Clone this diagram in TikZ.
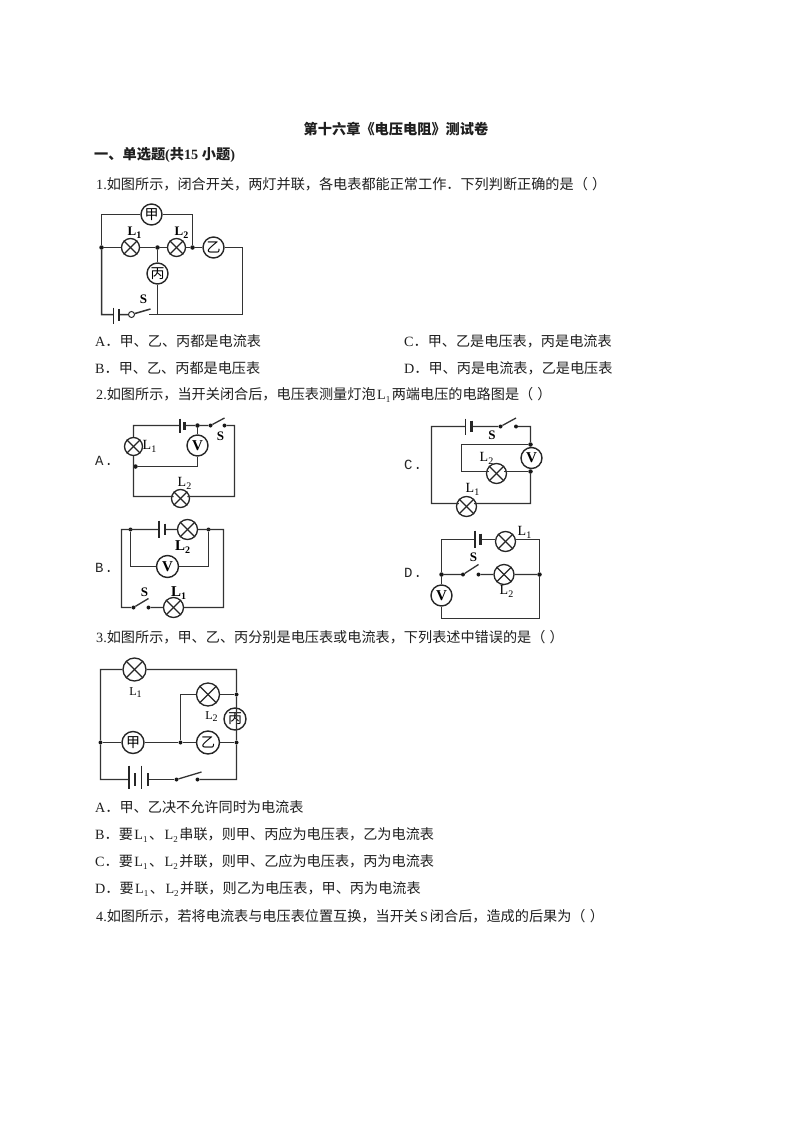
\documentclass[tikz,border=0pt]{standalone}
\usepackage{fontspec}
\setmainfont{Liberation Serif}
\newfontfamily\cjk{Noto Sans CJK SC}
\newfontfamily\latf{Liberation Serif}
\newfontfamily\monof{Liberation Mono}
\newcommand\lat[1]{{\latf #1}}
\newcommand\Lsub[1]{{\latf\hspace{1.5pt}L\raisebox{-0.2em}{\fontsize{9}{9}\selectfont #1}\hspace{1.5pt}}}
\newcommand\Lfig[1]{{\latf L\raisebox{-0.2em}{\fontsize{10}{10}\selectfont #1}}}
\newcommand\Lbig[1]{{\latf\bfseries L\raisebox{-0.2em}{\fontsize{10}{10}\selectfont #1}}}
\newcommand\pair{（\hspace{1pt} ）}
\tikzset{
  txt/.style={anchor=west,inner sep=0pt,font=\fontsize{14.15}{14.15}\selectfont\cjk,text=black!88},
  hd/.style={txt,font=\fontsize{14.2}{14.2}\selectfont\cjk\bfseries},
  opt/.style={anchor=center,inner sep=0pt,font=\fontsize{14}{14}\selectfont\monof,text=black!85},
  wire/.style={draw=black!80,line width=1.5pt},
  thin wire/.style={draw=black!80,line width=1.3pt},
  plate/.style={draw=black!85,line width=1.3pt},
  shortplate/.style={draw=black!85,line width=2.4pt},
  lamp/.style={circle,draw=black!85,line width=1.3pt,fill=white,inner sep=0pt,minimum size=#1,
    append after command={
      (\tikzlastnode.45) edge[black!85,line width=1.2pt] (\tikzlastnode.225)
      (\tikzlastnode.135) edge[black!85,line width=1.2pt] (\tikzlastnode.315)}},
  meter/.style={circle,draw=black!85,line width=1.4pt,fill=white,inner sep=0pt,minimum size=#1,
    font=\fontsize{14}{14}\selectfont\cjk},
  vm/.style={meter=#1,font=\fontsize{15}{15}\selectfont\latf\bfseries},
  dot/.style={circle,fill=black!90,inner sep=0pt,minimum size=4.5pt},
  sdot/.style={circle,fill=black!90,inner sep=0pt,minimum size=4pt},
  odot/.style={circle,draw=black!85,fill=white,line width=1pt,inner sep=0pt,minimum size=6pt},
  lab/.style={inner sep=0pt,font=\fontsize{13}{13}\selectfont\latf\bfseries},
  labb/.style={inner sep=0pt,font=\fontsize{15}{15}\selectfont\latf\bfseries},
  labn/.style={inner sep=0pt,font=\fontsize{14}{14}\selectfont\latf},
}
\begin{document}
\begin{tikzpicture}[x=1pt,y=-1pt]
\useasboundingbox[fill=white] (0,0) rectangle (794,1123);
% ---- texts
\node[hd,anchor=center] (title) at (396,129) {第十六章《电压电阻》测试卷};
\node[hd] (sec) at (94,155) {一、单选题\lat{\bfseries (}共\lat{\bfseries 15 }小题\lat{\bfseries )}};
\node[txt] (q1) at (96,184) {\lat{1.}如图所示，闭合开关，两灯并联，各电表都能正常工作．下列判断正确的是\pair};
\node[txt] (q1a) at (95,341) {\lat{A}．甲、乙、丙都是电流表};
\node[txt] (q1c) at (404,341) {\lat{C}．甲、乙是电压表，丙是电流表};
\node[txt] (q1b) at (95,368) {\lat{B}．甲、乙、丙都是电压表};
\node[txt] (q1d) at (404,368) {\lat{D}．甲、丙是电流表，乙是电压表};
\node[txt] (q2) at (96,395) {\lat{2.}如图所示，当开关闭合后，电压表测量灯泡\Lsub{1}两端电压的电路图是\pair};
\node[txt] (q3) at (96,637) {\lat{3.}如图所示，甲、乙、丙分别是电压表或电流表，下列表述中错误的是\pair};
\node[txt] (q3a) at (95,807) {\lat{A}．甲、乙决不允许同时为电流表};
\node[txt] (q3b) at (95,835) {\lat{B}．要\Lsub{1}、\Lsub{2}串联，则甲、丙应为电压表，乙为电流表};
\node[txt] (q3c) at (95,862) {\lat{C}．要\Lsub{1}、\Lsub{2}并联，则甲、乙应为电压表，丙为电流表};
\node[txt] (q3d) at (95,889) {\lat{D}．要\Lsub{1}、\Lsub{2}并联，则乙为电压表，甲、丙为电流表};
\node[txt] (q4) at (96,916) {\lat{4.}如图所示，若将电流表与电压表位置互换，当开关\hspace{2pt}\lat{S}\hspace{2pt}闭合后，造成的后果为\pair};
\node[opt,anchor=west] (oA) at (95,461) {A\hspace{1pt}.};
\node[opt,anchor=west] (oB) at (95,568) {B\hspace{1pt}.};
\node[opt,anchor=west] (oC) at (404,465) {C\hspace{1pt}.};
\node[opt,anchor=west] (oD) at (404,573) {D\hspace{1pt}.};

\begin{scope}[shift={(0.5,0.5)}]
% ---- figure 1
\coordinate (a1) at (101,214);\coordinate (a2) at (192,214);
\coordinate (a3) at (242,247);\coordinate (a4) at (242,314);\coordinate (a5) at (101,314);
\node[dot] (aj1) at (101,247) {};
\node[dot] (aj2) at (157,247) {};
\node[dot] (aj3) at (192,247) {};
\coordinate (aj4) at (157,314);
\node[meter=21pt] (aJ) at (151,214) {甲};
\node[lamp=18pt] (aL1) at (130,247) {};
\node[lamp=18pt] (aL2) at (176,247) {};
\node[meter=21pt] (aY) at (213,247) {乙};
\node[meter=21pt] (aB) at (157,273) {丙};
\coordinate (ab1) at (113,314);\coordinate (ab2) at (118.5,314);
\coordinate (ab1u) at (113,307);\coordinate (ab1d) at (113,323);
\coordinate (ab2u) at (118.5,308.5);\coordinate (ab2d) at (118.5,320);
\node[odot] (aS) at (131,314) {};
\coordinate (aS2) at (148,314);\coordinate (aSt) at (150,308.5);
\draw[wire] (aj1)--(a1)--(aJ) (aJ)--(a2)--(aj3);
\draw[wire] (aj1)--(aL1)--(aj2)--(aL2)--(aj3)--(aY)--(a3)--(a4)--(aS2);
\draw[wire] (aj2)--(aB)--(aj4);
\draw[wire] (aj1)--(a5)--(ab1) (ab2)--(aS) (aS)--(aSt);
\draw[plate] (ab1u)--(ab1d);
\draw[shortplate] (ab2u)--(ab2d);
\node[lab] (aL1t) at (134,232) {\Lbig{1}};
\node[lab] (aL2t) at (181,232) {\Lbig{2}};
\node[lab] (aSl) at (143,299) {S};

% ---- figure 2A
\coordinate (b1) at (133,425);\coordinate (b2) at (234,425);\coordinate (b3) at (234,496);\coordinate (b4) at (133,496);
\coordinate (bp1) at (179.5,425);\coordinate (bp2) at (184,425);
\coordinate (bp1u) at (179.5,418);\coordinate (bp1d) at (179.5,432);
\coordinate (bp2u) at (184,421.5);\coordinate (bp2d) at (184,429);
\node[dot] (bj1) at (197,425) {};
\node[dot] (bj2) at (135,466) {};
\coordinate (bj2r) at (197,466);
\node[sdot] (bs1) at (210,425) {};
\node[sdot] (bs2) at (224,425) {};
\coordinate (bst) at (224,417.5);
\node[lamp=18pt] (bL1) at (133,446) {};
\node[lamp=18pt] (bL2) at (180,498) {};
\node[vm=21pt] (bV) at (197,445) {V};
\draw[thin wire] (bL1)--(b1)--(bp1) (bp2)--(bj1)--(bs1)--(bst) (bs2)--(b2)--(b3)--(bL2.north east|-b3) (bL2.north west|-b4)--(b4)--(bL1);
\draw[thin wire] (bj1)--(bV)--(bj2r)--(bj2);
\draw[plate] (bp1u)--(bp1d);
\draw[shortplate] (bp2u)--(bp2d);
\node[labn] (bl1) at (149,446) {\Lfig{1}};
\node[lab] (bS) at (220,436) {S};
\node[labn] (bl2) at (184,483) {\Lfig{2}};

% ---- figure 2B
\coordinate (c1) at (121,529);\coordinate (c2) at (223,529);\coordinate (c3) at (223,607);\coordinate (c4) at (121,607);
\coordinate (cp1) at (158.5,529);\coordinate (cp2) at (164.5,529);
\coordinate (cp1u) at (158.5,520);\coordinate (cp1d) at (158.5,537);
\coordinate (cp2u) at (164.5,523);\coordinate (cp2d) at (164.5,534);
\node[sdot] (cj1) at (130,529) {};
\node[sdot] (cj2) at (208,529) {};
\coordinate (ci1) at (130,566);\coordinate (ci2) at (208,566);
\node[vm=22pt] (cV) at (167,566) {V};
\node[lamp=20pt] (cL2) at (187,529) {};
\node[lamp=20pt] (cL1) at (173,607) {};
\node[sdot] (cs1) at (133,607) {};
\node[sdot] (cs2) at (148,607) {};
\coordinate (cst) at (148,598);
\draw[thin wire] (cp1)--(c1)--(c4)--(cs1)--(cst) (cs2)--(cL1)--(c3)--(c2)--(cL2)--(cp2);
\draw[thin wire] (cj1)--(ci1)--(cV)--(ci2)--(cj2);
\draw[plate] (cp1u)--(cp1d);
\draw[shortplate] (cp2u)--(cp2d);
\node[labb] (cl2) at (182,547) {\Lbig{2}};
\node[lab] (cS) at (144,592) {S};
\node[labb] (cl1) at (178,593) {\Lbig{1}};

% ---- figure 2C
\coordinate (d1) at (431,426);\coordinate (d2) at (530,426);\coordinate (d3) at (530,503);\coordinate (d4) at (431,503);
\coordinate (dp1) at (465,426);\coordinate (dp2) at (471,426);
\coordinate (dp1u) at (465,418);\coordinate (dp1d) at (465,434);
\coordinate (dp2u) at (471,420);\coordinate (dp2d) at (471,431);
\node[sdot] (ds1) at (500,426) {};
\node[sdot] (ds2) at (515.5,426) {};
\coordinate (dst) at (515.5,417.5);
\node[dot] (dj1) at (530,444) {};
\node[dot] (dj2) at (530,471) {};
\coordinate (di1) at (461,444);\coordinate (di2) at (461,471);
\node[vm=21pt] (dV) at (531,457.5) {V};
\node[lamp=20pt] (dL2) at (496,473) {};
\node[lamp=20pt] (dL1) at (466,506) {};
\draw[thin wire] (dp1)--(d1)--(d4)--(dL1.north west|-d4) (dL1.north east|-d4)--(d3)--(dj2) (dj1)--(d2)--(ds2) (ds1)--(dp2) (ds1)--(dst);
\draw[thin wire] (dj1)--(di1)--(di2)--(dL2.north west|-di2) (dL2.north east|-di2)--(dj2);
\draw[plate] (dp1u)--(dp1d);
\draw[shortplate] (dp2u)--(dp2d);
\node[lab] (dS) at (491.5,434.5) {S};
\node[labn] (dl2) at (486,458) {\Lfig{2}};
\node[labn] (dl1) at (472,489) {\Lfig{1}};

% ---- figure 2D
\coordinate (e1) at (441,539);\coordinate (e2) at (539,539);\coordinate (e3) at (539,618);\coordinate (e4) at (441,618);
\coordinate (ep1) at (474.5,539);\coordinate (ep2) at (480,539);
\coordinate (ep1u) at (474.5,530);\coordinate (ep1d) at (474.5,547);
\coordinate (ep2u) at (480,533);\coordinate (ep2d) at (480,544);
\node[dot] (ej1) at (441,574) {};
\node[dot] (ej2) at (539,574) {};
\node[sdot] (es1) at (462.5,574) {};
\node[sdot] (es2) at (478,574) {};
\coordinate (est) at (478,564);
\node[lamp=20pt] (eL1) at (505,541) {};
\node[lamp=20pt] (eL2) at (503.5,574) {};
\node[vm=21pt] (eV) at (441,595) {V};
\draw[thin wire] (ej1)--(e1)--(ep1) (ep2)--(eL1.west|-e1) (eL1.east|-e1)--(e2)--(ej2)--(e3)--(e4)--(eV)--(ej1);
\draw[thin wire] (ej1)--(es1)--(est) (es2)--(eL2)--(ej2);
\draw[plate] (ep1u)--(ep1d);
\draw[shortplate] (ep2u)--(ep2d);
\node[labn] (el1) at (524,532) {\Lfig{1}};
\node[lab] (eS) at (473,557) {S};
\node[labn] (el2) at (506,591) {\Lfig{2}};

% ---- figure 3
\coordinate (f1) at (100,669);\coordinate (f2) at (236,669);\coordinate (f3) at (236,779);\coordinate (f4) at (100,779);
\node[sdot] (fj1) at (100,742) {};
\node[sdot] (fj2) at (180,742) {};
\node[sdot] (fj3) at (236,742) {};
\node[sdot] (fj4) at (236,694) {};
\coordinate (fi) at (180,694);
\node[lamp=23pt] (fL1) at (134,669) {};
\node[lamp=23pt] (fL2) at (207.5,694) {};
\node[meter=22pt] (fJ) at (132.5,742) {甲};
\node[meter=23pt] (fY) at (207.5,742) {乙};
\node[meter=22pt] (fB) at (234.5,718.5) {丙};
\coordinate (fp1) at (128.5,779);\coordinate (fp4) at (147.5,779);
\coordinate (fp1u) at (128.5,765);\coordinate (fp1d) at (128.5,788);
\coordinate (fp2u) at (134.5,772.5);\coordinate (fp2d) at (134.5,785);
\coordinate (fp3u) at (141,765);\coordinate (fp3d) at (141,788);
\coordinate (fp4u) at (147.5,772.5);\coordinate (fp4d) at (147.5,785);
\node[sdot] (fs1) at (176,779) {};
\node[sdot] (fs2) at (197,779) {};
\coordinate (fst) at (201,771.5);
\draw[thin wire] (fj1)--(f1)--(fL1)--(f2)--(fj4)--(fj3)--(f3)--(fs2) (fs1)--(fst) (fp1)--(f4)--(fj1);
\draw[thin wire] (fp4)--(fs1);
\draw[thin wire] (fj1)--(fJ)--(fj2)--(fY)--(fj3) (fj2)--(fi)--(fL2)--(fj4);
\draw[plate,line width=1.4pt] (fp1u)--(fp1d) (fp2u)--(fp2d) (fp3u)--(fp3d) (fp4u)--(fp4d);
\node[labn,font=\fontsize{12}{12}\selectfont\latf] (fl1) at (135,692) {\Lfig{1}};
\node[labn,font=\fontsize{12}{12}\selectfont\latf] (fl2) at (211,716) {\Lfig{2}};
\end{scope}
\end{tikzpicture}
\end{document}
